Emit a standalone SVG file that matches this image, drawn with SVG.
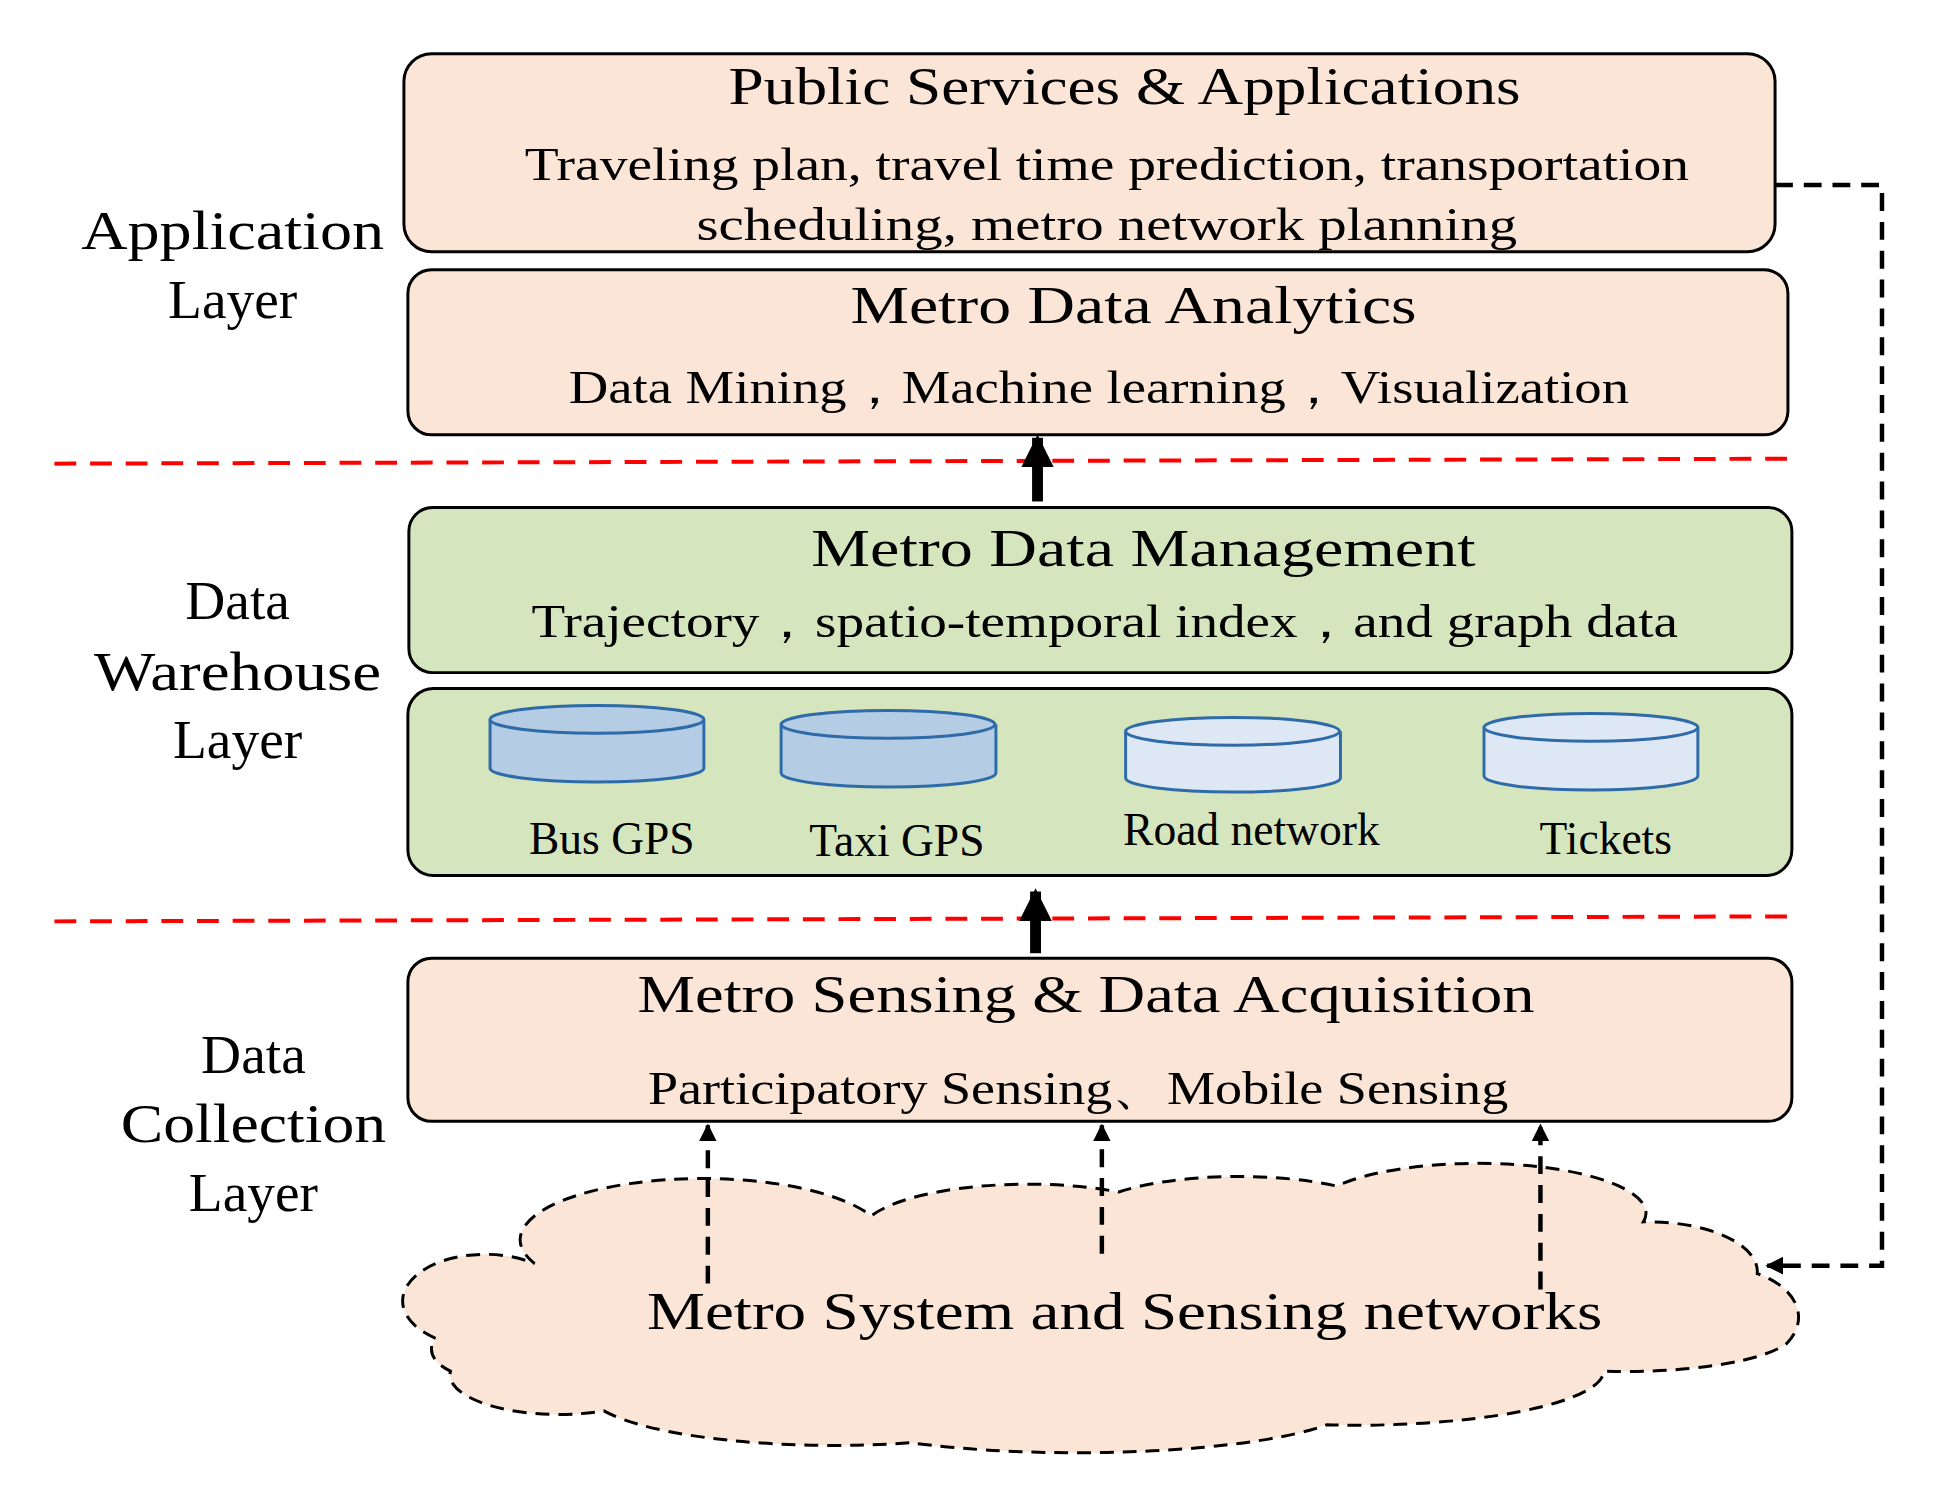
<svg xmlns="http://www.w3.org/2000/svg" width="1937" height="1506" viewBox="0 0 1937 1506">
<style>
text{font-family:"Liberation Serif","DejaVu Serif",serif;fill:#000;text-anchor:middle}
.t{font-size:54px}.s{font-size:46px}.l{font-size:56px}.c{font-size:46px}
.pb{fill:#FBE5D6;stroke:#000;stroke-width:3}
.gb{fill:#D5E6BE;stroke:#000;stroke-width:3}
.red{stroke:#F00;stroke-width:4;stroke-dasharray:22 14;fill:none}
.dk{fill:#B4CCE4;stroke:#2E6BA8;stroke-width:3}
.lt{fill:#DDE8F4;stroke:#2E6BA8;stroke-width:3}
.dash{stroke:#000;stroke-width:4.5;stroke-dasharray:18 11;fill:none}
</style>
<defs>
<marker id="ah" viewBox="0 0 10 10" refX="9" refY="5" markerWidth="4" markerHeight="4" orient="auto"><path d="M0,0L10,5L0,10z" fill="#000"/></marker>
<marker id="bh" viewBox="0 0 10 10" refX="9" refY="5" markerWidth="3" markerHeight="3" orient="auto"><path d="M0,0L10,5L0,10z" fill="#000"/></marker>
</defs>
<g transform="scale(0.99,0.995)">
<g id="labels">
<text class="l" x="235" y="250" textLength="306" lengthAdjust="spacingAndGlyphs">Application</text>
<text class="l" x="235" y="320">Layer</text>
<text class="l" x="240" y="622">Data</text>
<text class="l" x="240" y="693" textLength="290" lengthAdjust="spacingAndGlyphs">Warehouse</text>
<text class="l" x="240" y="762">Layer</text>
<text class="l" x="256" y="1078">Data</text>
<text class="l" x="256" y="1148" textLength="268" lengthAdjust="spacingAndGlyphs">Collection</text>
<text class="l" x="256" y="1217">Layer</text>
</g>
<g id="separators">
<line class="red" x1="55" y1="466" x2="1810" y2="461"/>
<line class="red" x1="55" y1="926" x2="1810" y2="921"/>
</g>
<g id="public">
<rect class="pb" x="408" y="54" width="1385" height="199" rx="28"/>
<text class="t" x="1136" y="105" textLength="800" lengthAdjust="spacingAndGlyphs">Public Services &amp; Applications</text>
<text class="s" x="1118" y="181" textLength="1176" lengthAdjust="spacingAndGlyphs">Traveling plan, travel time prediction, transportation</text>
<text class="s" x="1118" y="241" textLength="829" lengthAdjust="spacingAndGlyphs">scheduling,  metro network planning</text>
</g>
<g id="analytics">
<rect class="pb" x="412" y="271" width="1394" height="166" rx="24"/>
<text class="t" x="1145" y="325" textLength="572" lengthAdjust="spacingAndGlyphs">Metro Data  Analytics</text>
<text class="s" x="1110" y="405" textLength="1071" lengthAdjust="spacingAndGlyphs">Data Mining，Machine learning，Visualization</text>
</g>
<g id="management">
<rect class="gb" x="413" y="510" width="1397" height="166" rx="24"/>
<text class="t" x="1155" y="569" textLength="671" lengthAdjust="spacingAndGlyphs">Metro Data  Management</text>
<text class="s" x="1116" y="640" textLength="1158" lengthAdjust="spacingAndGlyphs">Trajectory，spatio-temporal index，and graph data</text>
</g>
<g id="sources">
<rect class="gb" x="412" y="692" width="1398" height="188" rx="26"/>
<path class="dk" d="M495,723 V772 A108,14 0 0 0 711,772 V723"/><ellipse class="dk" cx="603" cy="723" rx="108" ry="14"/>
<path class="dk" d="M789,728 V777 A108,14 0 0 0 1006,777 V728"/><ellipse class="dk" cx="897" cy="728" rx="108" ry="14"/>
<path class="lt" d="M1137,735 V782 A108,14 0 0 0 1354,782 V735"/><ellipse class="lt" cx="1245" cy="735" rx="108" ry="14"/>
<path class="lt" d="M1499,731 V780 A108,14 0 0 0 1715,780 V731"/><ellipse class="lt" cx="1607" cy="731" rx="108" ry="14"/>
<text class="c" x="618" y="858">Bus GPS</text>
<text class="c" x="906" y="860">Taxi GPS</text>
<text class="c" x="1264" y="849">Road network</text>
<text class="c" x="1622" y="858">Tickets</text>
</g>
<g id="acquisition">
<rect class="pb" x="412" y="963" width="1398" height="164" rx="24"/>
<text class="t" x="1097" y="1017" textLength="906" lengthAdjust="spacingAndGlyphs">Metro Sensing &amp; Data  Acquisition</text>
<text class="s" x="1089" y="1110" textLength="869" lengthAdjust="spacingAndGlyphs">Participatory Sensing、Mobile Sensing</text>
</g>
<g id="cloud">
<path d="M440 1345 A80 45 0 0 1 540 1270 A180 60 0 0 1 880 1222 A170 50 0 0 1 1130 1198 A160 45 0 0 1 1350 1192 A170 50 0 0 1 1660 1228 A110 50 0 0 1 1775 1280 A80 50 0 0 1 1805 1350 A170 40 0 0 1 1620 1378 A250 55 0 0 1 1340 1432 A280 50 0 0 1 920 1450 A250 55 0 0 1 610 1418 A110 40 0 0 1 455 1378 A60 30 0 0 1 440 1345 Z" fill="#FBE5D6" stroke="#000" stroke-width="3" stroke-dasharray="14 9"/>
<text class="t" x="1136" y="1336" textLength="965" lengthAdjust="spacingAndGlyphs">Metro System  and Sensing networks</text>
</g>
<g id="connectors">
<line x1="1048" y1="504" x2="1048" y2="440" stroke="#000" stroke-width="11" marker-end="url(#bh)"/>
<line x1="1046" y1="958" x2="1046" y2="896" stroke="#000" stroke-width="11" marker-end="url(#bh)"/>
<line class="dash" x1="715" y1="1290" x2="715" y2="1131" marker-end="url(#ah)"/>
<line class="dash" x1="1113" y1="1260" x2="1113" y2="1131" marker-end="url(#ah)"/>
<line class="dash" x1="1556" y1="1296" x2="1556" y2="1131" marker-end="url(#ah)"/>
<polyline class="dash" points="1793,186 1901,186 1901,1272 1785,1272" marker-end="url(#ah)"/>
</g>
</g>
</svg>
